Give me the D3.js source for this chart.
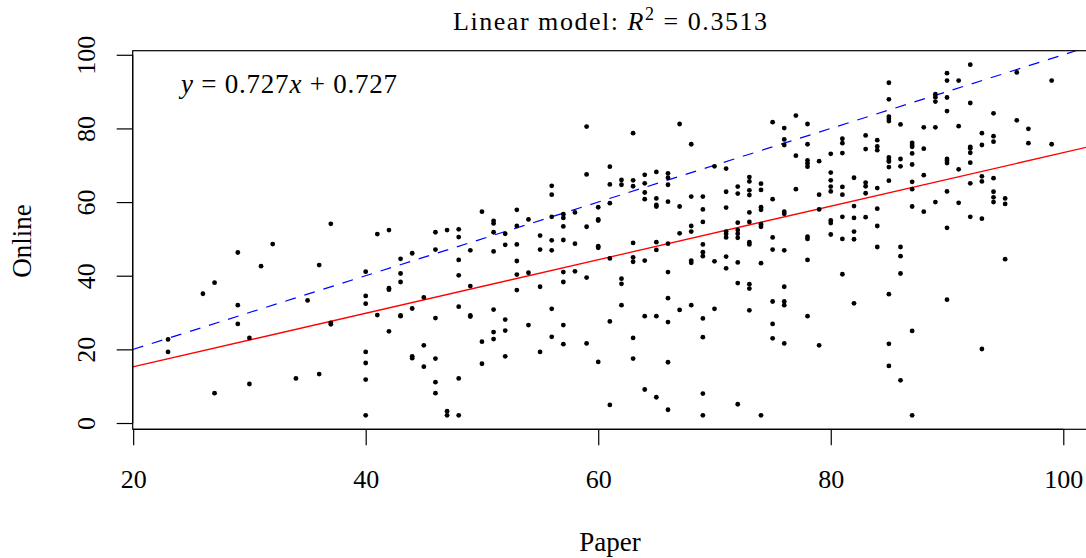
<!DOCTYPE html>
<html>
<head>
<meta charset="utf-8">
<script src="https://cdn.jsdelivr.net/npm/d3@7"></script>
<style>
  body { margin: 0; background: #fff; }
  svg { display: block; }
  text { font-family: "Liberation Serif", "DejaVu Serif", serif; fill: #000; }
</style>
</head>
<body>
<svg id="chart"></svg>
<script>
// paper score (x) columns, and the online scores found in each column
const paperScores = [23, 26, 27, 29, 30, 31, 32, 34, 35, 36, 37, 40, 41, 42, 43, 44, 45, 46, 47, 48,
  49, 50, 51, 52, 53, 54, 55, 56, 57, 58, 59, 60, 61, 62, 63, 64, 65, 66, 67, 68,
  69, 70, 71, 72, 73, 74, 75, 76, 77, 78, 79, 80, 81, 82, 83, 84, 85, 86, 87, 88,
  89, 90, 91, 92, 93, 94, 95, 96, 97, 99];

const onlineScores = [
  [22.7, 19.3],
  [35.1],
  [38.1, 8.1],
  [46.3, 32.0, 26.9],
  [23.1, 10.6],
  [42.6],
  [48.6],
  [12.1],
  [33.3],
  [42.9, 13.3],
  [54.1, 27.2, 26.8],
  [41.1, 34.5, 32.4, 19.3, 16.3, 11.8, 2.1],
  [51.3, 29.3],
  [52.4, 36.6, 36.2, 24.9],
  [44.6, 40.6, 38.3, 29.2, 29.0],
  [46.1, 31.1, 18.1, 17.6],
  [34.1, 21.1, 15.3],
  [51.8, 47.1, 28.5, 17.5, 11.1, 8.1],
  [52.4, 3.2, 2.1],
  [52.6, 50.5, 44.3, 40.1, 31.6, 12.1, 2.1],
  [46.9, 37.2, 29.2, 28.9],
  [57.4, 22.1, 16.1],
  [54.9, 54.2, 51.8, 46.6, 30.8, 24.7, 22.8],
  [51.4, 48.4, 28.1, 25.1, 18.1],
  [57.9, 53.5, 48.5, 44.0, 40.3, 36.1],
  [55.3, 40.8, 26.6],
  [50.9, 47.1, 37.0, 19.3],
  [64.4, 62.0, 56.0, 49.6, 46.9, 31.0, 23.4],
  [56.7, 55.7, 53.4, 49.7, 41.0, 38.3, 26.6, 21.4],
  [57.2, 48.7, 41.2],
  [80.5, 67.5, 53.3, 39.5, 21.6],
  [58.6, 55.3, 55.0, 48.0, 47.6, 16.6],
  [69.6, 64.8, 59.7, 44.7, 27.6, 4.9],
  [66.0, 64.7, 39.2, 37.8, 32.0],
  [78.7, 65.9, 64.3, 48.9, 45.0, 43.8, 23.1, 17.5],
  [67.4, 65.1, 62.6, 60.8, 44.1, 29.0, 9.1],
  [68.2, 61.0, 59.2, 58.8, 49.1, 47.0, 29.0, 7.0],
  [67.8, 66.6, 64.7, 60.1, 48.7, 41.0, 33.9, 27.4, 16.5, 3.6],
  [81.2, 58.8, 51.5, 30.7],
  [75.7, 61.5, 53.5, 52.0, 44.1, 43.5, 32.0],
  [61.5, 58.0, 54.6, 48.5, 46.4, 45.3, 28.4, 23.3, 8.0, 2.1],
  [69.7, 43.9, 31.0],
  [69.1, 62.8, 58.5, 52.0, 51.3, 50.4, 45.2, 42.0],
  [64.2, 62.3, 54.4, 52.4, 51.4, 50.3, 43.6, 38.0, 5.1],
  [66.8, 65.6, 63.2, 61.9, 57.2, 54.6, 49.1, 48.5, 37.7, 36.5, 30.6],
  [65.0, 63.3, 58.6, 57.9, 54.0, 53.3, 43.4, 2.1],
  [81.7, 60.8, 50.4, 47.1, 33.0, 26.9, 23.0],
  [80.1, 77.0, 75.5, 57.4, 56.8, 46.9, 37.0, 33.0, 32.0, 21.6],
  [83.5, 72.6, 63.5],
  [81.2, 75.7, 71.3, 70.5, 69.6, 50.6, 50.0, 44.3, 29.0],
  [71.1, 62.0, 58.0, 21.1],
  [73.1, 68.0, 65.9, 64.2, 62.9, 55.0, 54.3, 51.2],
  [77.2, 76.0, 73.3, 64.1, 62.0, 56.0, 50.0, 40.4],
  [66.6, 58.9, 55.7, 52.0, 49.9, 32.5],
  [78.1, 74.4, 65.3, 64.3, 62.4, 55.9],
  [76.8, 75.1, 74.1, 63.8, 58.2, 53.5, 47.8],
  [92.4, 87.9, 83.2, 82.6, 82.0, 72.1, 71.4, 71.0, 69.5, 65.8, 35.0, 21.5, 15.5],
  [81.1, 71.7, 69.7, 47.8, 45.3, 40.6, 11.6],
  [76.1, 75.5, 75.0, 73.2, 70.2, 65.5, 63.5, 58.8, 25.0, 2.1],
  [80.3, 74.5, 67.3, 57.4],
  [89.3, 88.5, 87.3, 80.3, 60.0],
  [95.0, 93.0, 88.4, 84.7, 71.7, 71.2, 70.6, 62.9, 53.0, 33.5],
  [93.0, 80.6, 68.9, 59.8],
  [97.3, 86.9, 75.0, 74.6, 73.4, 70.7, 65.1, 56.0],
  [78.7, 75.5, 67.0, 65.6, 55.5, 20.1],
  [84.1, 77.9, 76.4, 66.5, 62.8, 61.3, 60.0],
  [61.0, 59.5, 44.5],
  [95.2, 82.2],
  [79.9, 76.0],
  [93.0, 75.7]
];

const xTicks = [20, 40, 60, 80, 100];
const yTicks = [0, 20, 40, 60, 80, 100];
const fitSlope = 0.727;
const fitIntercept = 0.727;
const rSquared = '0.3513';

const width = 1086;
const height = 558;
const box = { left: 132.7, top: 50.7, bottom: 429.3, right: 1087 };

const points = paperScores.flatMap((p, i) => onlineScores[i].map(o => ({ x: p, y: o })));

// R style 4% extension of the data range
const pad = ext => {
  const d = (ext[1] - ext[0]) * 0.04;
  return [ext[0] - d, ext[1] + d];
};

const scaleX = d3.scaleLinear()
  .domain(pad(d3.extent(points, d => d.x)))
  .range([box.left, box.right]);

const scaleY = d3.scaleLinear()
  .domain(pad(d3.extent(points, d => d.y)))
  .range([box.bottom, box.top]);

const svg = d3.select('#chart')
  .attr('width', width)
  .attr('height', height);

svg.append('clipPath')
  .attr('id', 'plot-clip')
  .append('rect')
  .attr('x', box.left)
  .attr('y', box.top)
  .attr('width', box.right - box.left)
  .attr('height', box.bottom - box.top);

const plot = svg.append('g').attr('clip-path', 'url(#plot-clip)');

const [x0, x1] = scaleX.domain();

// identity line
plot.append('line')
  .attr('x1', scaleX(x0)).attr('y1', scaleY(x0))
  .attr('x2', scaleX(x1)).attr('y2', scaleY(x1))
  .attr('stroke', '#0000ff')
  .attr('stroke-width', 1.2)
  .attr('stroke-dasharray', '11 9');

// fitted line
const fit = x => fitSlope * x + fitIntercept;
plot.append('line')
  .attr('x1', scaleX(x0)).attr('y1', scaleY(fit(x0)))
  .attr('x2', scaleX(x1)).attr('y2', scaleY(fit(x1)))
  .attr('stroke', '#ff0000')
  .attr('stroke-width', 1.3);

plot.selectAll('circle')
  .data(points)
  .enter().append('circle')
  .attr('cx', d => scaleX(d.x))
  .attr('cy', d => scaleY(d.y))
  .attr('r', 2.4)
  .attr('fill', '#000');

svg.append('rect')
  .attr('x', box.left)
  .attr('y', box.top)
  .attr('width', box.right - box.left)
  .attr('height', box.bottom - box.top)
  .attr('fill', 'none')
  .attr('stroke', '#000')
  .attr('stroke-width', 1.2);

const axisX = svg.append('g')
  .attr('transform', `translate(0,${box.bottom})`)
  .call(d3.axisBottom(scaleX).tickValues(xTicks).tickSize(16).tickSizeOuter(0).tickPadding(43));

axisX.select('.domain')
  .attr('d', `M${scaleX(xTicks[0])},0H${scaleX(xTicks[xTicks.length - 1])}`)
  .attr('stroke-width', 1.2);
axisX.selectAll('.tick line').attr('stroke-width', 1.2);
axisX.selectAll('text')
  .attr('font-size', 26)
  .attr('font-family', null)
  .attr('dy', 0);

const axisY = svg.append('g')
  .attr('transform', `translate(${box.left},0)`)
  .call(d3.axisLeft(scaleY).tickValues(yTicks).tickSize(16).tickSizeOuter(0));

axisY.select('.domain')
  .attr('d', `M0,${scaleY(yTicks[0])}V${scaleY(yTicks[yTicks.length - 1])}`)
  .attr('stroke-width', 1.2);
axisY.selectAll('.tick line').attr('stroke-width', 1.2);
axisY.selectAll('text')
  .attr('font-size', 26)
  .attr('font-family', null)
  .attr('text-anchor', 'middle')
  .attr('x', 0)
  .attr('dy', 0)
  .attr('transform', 'translate(-38,0) rotate(-90)');

svg.append('text')
  .attr('x', 610)
  .attr('y', 551)
  .attr('text-anchor', 'middle')
  .attr('font-size', 27)
  .text('Paper');

svg.append('text')
  .attr('transform', 'translate(31,241) rotate(-90)')
  .attr('text-anchor', 'middle')
  .attr('font-size', 27)
  .text('Online');

const title = svg.append('text')
  .attr('x', 453)
  .attr('y', 30)
  .attr('font-size', 26)
  .attr('textLength', 314)
  .attr('lengthAdjust', 'spacing');
title.append('tspan').text('Linear model: ');
title.append('tspan').attr('font-style', 'italic').text('R');
title.append('tspan').attr('font-size', 18).attr('dy', -10).text('2');
title.append('tspan').attr('dy', 10).text(` = ${rSquared}`);

const eq = svg.append('text')
  .attr('x', 181)
  .attr('y', 93)
  .attr('font-size', 27)
  .attr('textLength', 216)
  .attr('lengthAdjust', 'spacing');
eq.append('tspan').attr('font-style', 'italic').text('y');
eq.append('tspan').text(` = ${fitSlope}`);
eq.append('tspan').attr('font-style', 'italic').text('x');
eq.append('tspan').text(` + ${fitIntercept}`);
</script>
</body>
</html>
